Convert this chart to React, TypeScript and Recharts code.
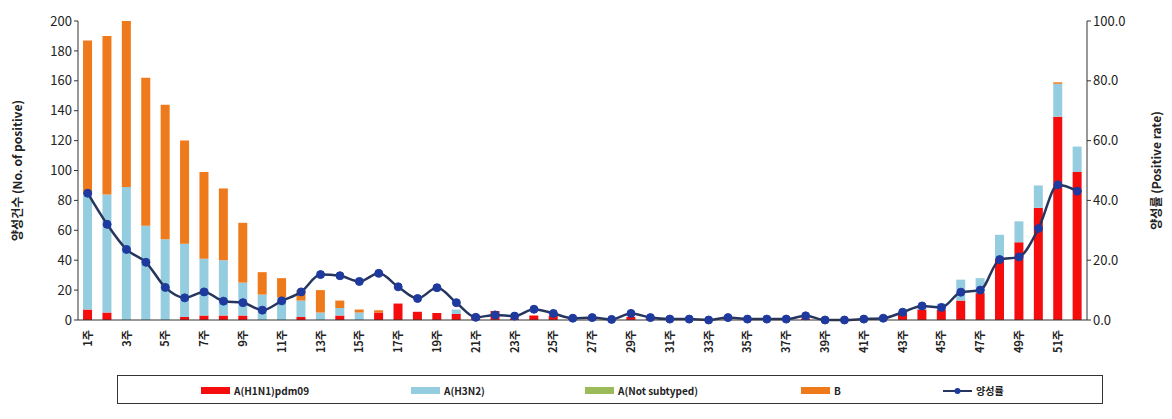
import { ComposedChart, Bar, Line, XAxis, YAxis } from "recharts"

// weekly categories
const weeks = Array.from({ length: 52 }, (_, i) => `${i + 1}주`)

// positive counts by subtype
const h1n1 = [7, 5, 0, 0, 0, 2, 3, 3, 3, 0, 0, 2, 0, 3, 0, 5, 11, 5.5, 4.7, 4, 3, 6, 1, 3, 3, 1, 1, 0, 2, 1, 0, 0, 0, 1, 0, 0, 0, 1, 0, 0, 1, 1, 4, 7, 7, 13, 18, 41, 52, 75, 136, 99]
const h3n2 = [77, 79, 89, 63, 54, 49, 38, 37, 22, 17, 15, 11, 5, 5, 5, 0, 0, 0, 0, 3, 0, 0, 0, 0, 0, 0, 0, 0, 0, 0, 0, 0, 0, 0, 0, 0, 0, 0, 0, 0, 0, 0, 1, 3, 4, 14, 10, 16, 14, 15, 22, 17]
const notSubtyped = [0, 0, 0, 0, 0, 0, 0, 0, 0, 0, 0, 0, 0, 0, 0, 0, 0, 0, 0, 0, 0, 0, 0, 0, 0, 0, 0, 0, 0, 0, 0, 0, 0, 0, 0, 0, 0, 0, 0, 0, 0, 0, 0, 0, 0, 0, 0, 0, 0, 0, 0, 0]
const fluB = [103, 106, 111, 99, 90, 69, 58, 48, 40, 15, 13, 7, 15, 5, 2, 1.5, 0, 0, 0, 0, 0, 0, 0, 0, 0, 0, 0, 0, 0, 0, 0, 0, 0, 0, 0, 0, 0, 0, 0, 0, 0, 0, 0, 0, 0, 0, 0, 0, 0, 0, 1, 0]

// positive rate (%)
const rate = [42.4, 32, 23.6, 19.3, 10.9, 7.4, 9.4, 6.3, 5.8, 3.3, 6.4, 9.4, 15.2, 14.8, 12.9, 15.6, 11.1, 7.2, 10.8, 5.8, 0.9, 1.7, 1.3, 3.6, 2.2, 0.6, 0.8, 0.2, 2.2, 0.8, 0.3, 0.3, 0, 0.8, 0.3, 0.3, 0.3, 1.4, 0, 0, 0.3, 0.6, 2.6, 4.7, 4.2, 9.3, 10, 20.2, 21.1, 30.6, 45.2, 43.1]

const countTicks = [0, 20, 40, 60, 80, 100, 120, 140, 160, 180, 200]
const rateTicks = [0, 20, 40, 60, 80, 100]

const data = weeks.map((week, i) => ({
  week,
  h1n1: h1n1[i],
  h3n2: h3n2[i],
  nst: notSubtyped[i],
  b: fluB[i],
  rate: rate[i],
}))

const font = "'Noto Sans CJK KR', 'DejaVu Sans', sans-serif"

const WeekTick = ({ x, y, payload }: any) => (
  <text
    x={x + 4}
    y={y + 2}
    transform={`rotate(-90 ${x + 4} ${y + 2})`}
    textAnchor="end"
    fontSize={11}
    fontWeight="bold"
    fontFamily={font}
    fill="#222"
  >
    {payload.value}
  </text>
)

const legendItems = [
  { left: 83, label: "A(H1N1)pdm09", color: "#f50d0d", type: "bar" },
  { left: 293, label: "A(H3N2)", color: "#95cde0", type: "bar" },
  { left: 467, label: "A(Not subtyped)", color: "#9bbb59", type: "bar" },
  { left: 683, label: "B", color: "#ee7a1c", type: "bar" },
  { left: 825, label: "양성률", color: "#1f3a9e", type: "line" },
]

const LegendBox = () => (
  <div
    style={{
      position: "absolute",
      left: 117,
      top: 375,
      width: 986,
      height: 29,
      border: "1px solid #333",
      boxSizing: "border-box",
      fontFamily: font,
      fontSize: 10,
      fontWeight: "bold",
      color: "#222",
    }}
  >
    {legendItems.map((it) => (
      <div key={it.label} style={{ position: "absolute", left: it.left, top: 7, display: "flex", alignItems: "center" }}>
        {it.type === "bar" ? (
          <span style={{ display: "inline-block", width: 29, height: 7, background: it.color }} />
        ) : (
          <svg width={29} height={10}>
            <line x1={0} y1={5} x2={29} y2={5} stroke="#27365f" strokeWidth={2} />
            <circle cx={14.5} cy={5} r={3} fill={it.color} />
          </svg>
        )}
        <span style={{ marginLeft: 4 }}>{it.label}</span>
      </div>
    ))}
  </div>
)

export default function App() {
  return (
    <div style={{ position: "absolute", left: 0, top: 0, width: 1172, height: 419, background: "#fff" }}>
      <ComposedChart
        width={1172}
        height={419}
        data={data}
        margin={{ top: 21, right: 0, left: 0, bottom: 59 }}
        barCategoryGap="26%"
      >
        <XAxis
          dataKey="week"
          interval={1}
          tick={<WeekTick />}
          tickLine={false}
          axisLine={{ stroke: "#333" }}
          height={40}
        />
        <YAxis
          yAxisId="count"
          domain={[0, 200]}
          ticks={countTicks}
          width={78}
          tickSize={4}
          axisLine={{ stroke: "#333" }}
          tickLine={{ stroke: "#333" }}
          tick={{ fontSize: 13, fill: "#222", fontFamily: font }}
          label={{
            value: "양성건수 (No. of positive)",
            angle: -90,
            position: "insideLeft",
            offset: 18,
            style: { textAnchor: "middle", fontSize: 12, fontWeight: "bold", fill: "#222", fontFamily: font },
          }}
        />
        <YAxis
          yAxisId="rate"
          orientation="right"
          domain={[0, 100]}
          ticks={rateTicks}
          width={85}
          tickSize={4}
          axisLine={{ stroke: "#333" }}
          tickLine={{ stroke: "#333" }}
          tickFormatter={(v: number) => v.toFixed(1)}
          tick={{ fontSize: 13, fill: "#222", fontFamily: font }}
          label={{
            value: "양성률 (Positive rate)",
            angle: -90,
            position: "insideRight",
            offset: 15,
            style: { textAnchor: "middle", fontSize: 12, fontWeight: "bold", fill: "#222", fontFamily: font },
          }}
        />
        <Bar yAxisId="count" dataKey="h1n1" stackId="s" fill="#f50d0d" isAnimationActive={false} />
        <Bar yAxisId="count" dataKey="h3n2" stackId="s" fill="#95cde0" isAnimationActive={false} />
        <Bar yAxisId="count" dataKey="nst" stackId="s" fill="#9bbb59" isAnimationActive={false} />
        <Bar yAxisId="count" dataKey="b" stackId="s" fill="#ee7a1c" isAnimationActive={false} />
        <Line
          yAxisId="rate"
          dataKey="rate"
          type="monotone"
          stroke="#27365f"
          strokeWidth={2.5}
          dot={{ r: 4, fill: "#1f3a9e", stroke: "#1f3a9e", strokeWidth: 1 }}
          isAnimationActive={false}
        />
      </ComposedChart>
      <LegendBox />
    </div>
  )
}
